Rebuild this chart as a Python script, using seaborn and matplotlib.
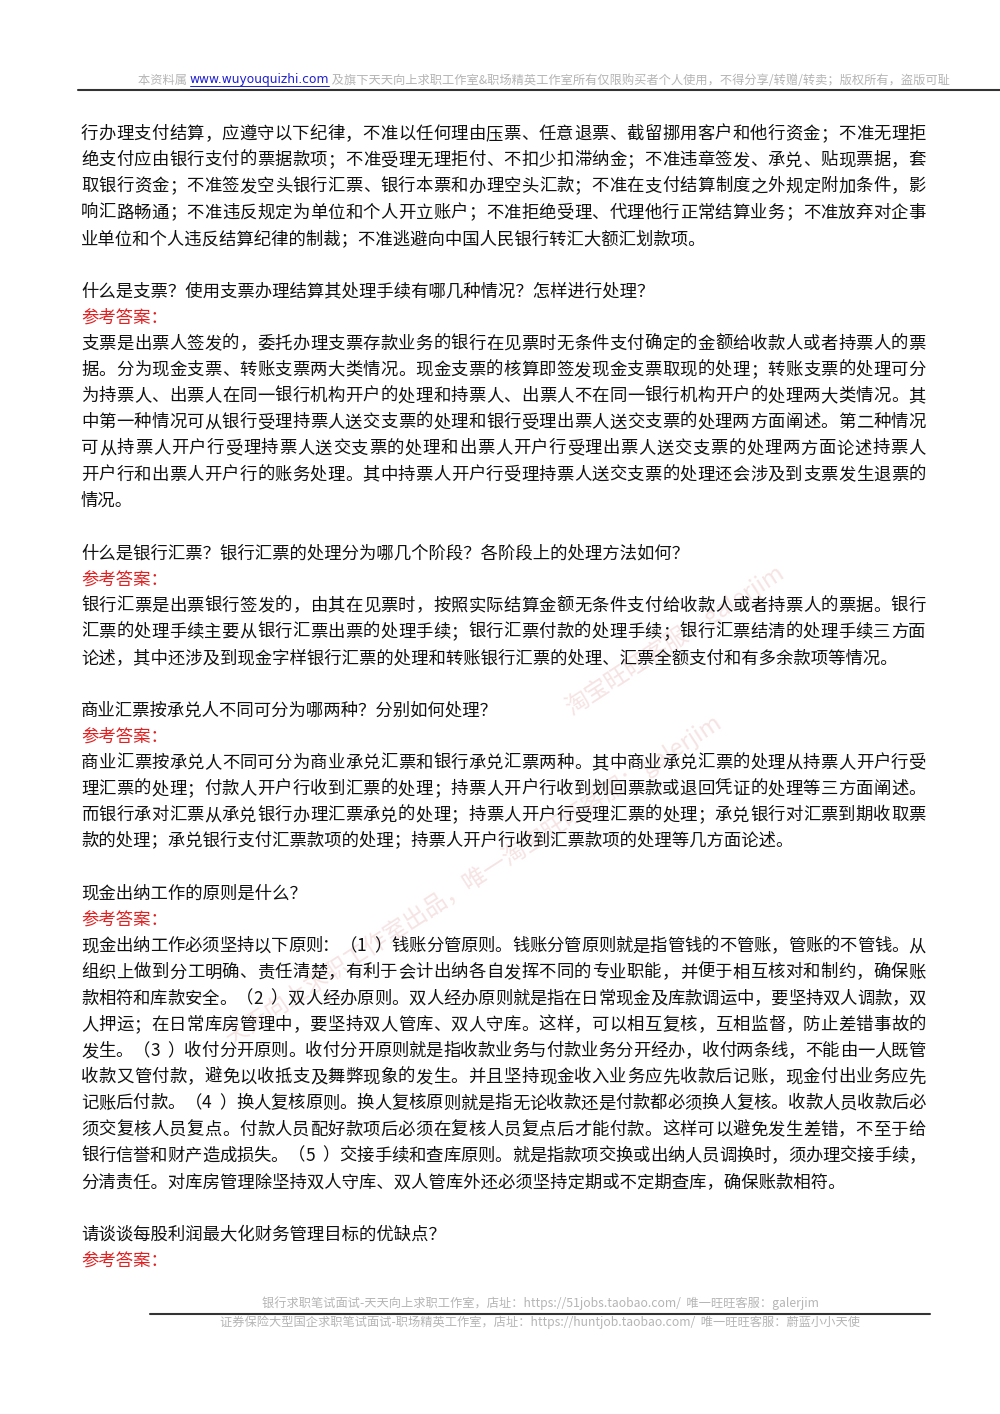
import matplotlib
matplotlib.use("Agg")
import matplotlib.pyplot as plt
import seaborn as sns

sns.set_theme(style="white")
plt.rcParams['font.family'] = ['Noto Sans CJK SC', 'DejaVu Sans']

header_left = "本资料属 "
header_link = "www.wuyouquizhi.com"
header_right = " 及旗下天天向上求职工作室&职场精英工作室所有仅限购买者个人使用，不得分享/转赠/转卖；版权所有，盗版可耻"
footer_1 = "银行求职笔试面试-天天向上求职工作室，店址：https://51jobs.taobao.com/  唯一旺旺客服：galerjim"
footer_2 = "证券保险大型国企求职笔试面试-职场精英工作室，店址：https://huntjob.taobao.com/  唯一旺旺客服：蔚蓝小小天使"

# (text, kind) kind: j = justified, l = last line of paragraph, r = red label
body = [
    ("行办理支付结算，应遵守以下纪律，不准以任何理由压票、任意退票、截留挪用客户和他行资金；不准无理拒", "j"),
    ("绝支付应由银行支付的票据款项；不准受理无理拒付、不扣少扣滞纳金；不准违章签发、承兑、贴现票据，套", "j"),
    ("取银行资金；不准签发空头银行汇票、银行本票和办理空头汇款；不准在支付结算制度之外规定附加条件，影", "j"),
    ("响汇路畅通；不准违反规定为单位和个人开立账户；不准拒绝受理、代理他行正常结算业务；不准放弃对企事", "j"),
    ("业单位和个人违反结算纪律的制裁；不准逃避向中国人民银行转汇大额汇划款项。", "l"),
    (None, None),
    ("什么是支票？使用支票办理结算其处理手续有哪几种情况？怎样进行处理？", "l"),
    ("参考答案：", "r"),
    ("支票是出票人签发的，委托办理支票存款业务的银行在见票时无条件支付确定的金额给收款人或者持票人的票", "j"),
    ("据。分为现金支票、转账支票两大类情况。现金支票的核算即签发现金支票取现的处理；转账支票的处理可分", "j"),
    ("为持票人、出票人在同一银行机构开户的处理和持票人、出票人不在同一银行机构开户的处理两大类情况。其", "j"),
    ("中第一种情况可从银行受理持票人送交支票的处理和银行受理出票人送交支票的处理两方面阐述。第二种情况", "j"),
    ("可从持票人开户行受理持票人送交支票的处理和出票人开户行受理出票人送交支票的处理两方面论述持票人", "j"),
    ("开户行和出票人开户行的账务处理。其中持票人开户行受理持票人送交支票的处理还会涉及到支票发生退票的", "j"),
    ("情况。", "l"),
    (None, None),
    ("什么是银行汇票？银行汇票的处理分为哪几个阶段？各阶段上的处理方法如何？", "l"),
    ("参考答案：", "r"),
    ("银行汇票是出票银行签发的，由其在见票时，按照实际结算金额无条件支付给收款人或者持票人的票据。银行", "j"),
    ("汇票的处理手续主要从银行汇票出票的处理手续；银行汇票付款的处理手续；银行汇票结清的处理手续三方面", "j"),
    ("论述，其中还涉及到现金字样银行汇票的处理和转账银行汇票的处理、汇票全额支付和有多余款项等情况。", "l"),
    (None, None),
    ("商业汇票按承兑人不同可分为哪两种？分别如何处理？", "l"),
    ("参考答案：", "r"),
    ("商业汇票按承兑人不同可分为商业承兑汇票和银行承兑汇票两种。其中商业承兑汇票的处理从持票人开户行受", "j"),
    ("理汇票的处理；付款人开户行收到汇票的处理；持票人开户行收到划回票款或退回凭证的处理等三方面阐述。", "j"),
    ("而银行承对汇票从承兑银行办理汇票承兑的处理；持票人开户行受理汇票的处理；承兑银行对汇票到期收取票", "j"),
    ("款的处理；承兑银行支付汇票款项的处理；持票人开户行收到汇票款项的处理等几方面论述。", "l"),
    (None, None),
    ("现金出纳工作的原则是什么？", "l"),
    ("参考答案：", "r"),
    ("现金出纳工作必须坚持以下原则：（1）钱账分管原则。钱账分管原则就是指管钱的不管账，管账的不管钱。从", "j"),
    ("组织上做到分工明确、责任清楚，有利于会计出纳各自发挥不同的专业职能，并便于相互核对和制约，确保账", "j"),
    ("款相符和库款安全。（2）双人经办原则。双人经办原则就是指在日常现金及库款调运中，要坚持双人调款，双", "j"),
    ("人押运；在日常库房管理中，要坚持双人管库、双人守库。这样，可以相互复核，互相监督，防止差错事故的", "j"),
    ("发生。（3）收付分开原则。收付分开原则就是指收款业务与付款业务分开经办，收付两条线，不能由一人既管", "j"),
    ("收款又管付款，避免以收抵支及舞弊现象的发生。并且坚持现金收入业务应先收款后记账，现金付出业务应先", "j"),
    ("记账后付款。（4）换人复核原则。换人复核原则就是指无论收款还是付款都必须换人复核。收款人员收款后必", "j"),
    ("须交复核人员复点。付款人员配好款项后必须在复核人员复点后才能付款。这样可以避免发生差错，不至于给", "j"),
    ("银行信誉和财产造成损失。（5）交接手续和查库原则。就是指款项交换或出纳人员调换时，须办理交接手续，", "j"),
    ("分清责任。对库房管理除坚持双人守库、双人管库外还必须坚持定期或不定期查库，确保账款相符。", "l"),
    (None, None),
    ("请谈谈每股利润最大化财务管理目标的优缺点？", "l"),
    ("参考答案：", "r"),
]

watermark_1 = "天天向上求职工作室出品，唯一淘宝旺旺客服：galerjim"
watermark_2 = "淘宝旺旺客服：galerjim"

W, H = 1000, 1414
fig = plt.figure(figsize=(W / 100, H / 100), dpi=100)
ax = fig.add_axes([0, 0, 1, 1])
ax.set_xlim(0, W)
ax.set_ylim(H, 0)
ax.axis("off")

# faint diagonal watermark
ax.text(220, 880, watermark_1, rotation=33, fontsize=17, color="#f6e4e4",
        ha="left", va="center", zorder=0)
ax.text(560, 640, watermark_2, rotation=33, fontsize=17, color="#f6e4e4",
        ha="left", va="center", zorder=0)

# header
renderer = fig.canvas.get_renderer()
hs = 8.8
t1 = ax.text(138, 80, header_left, fontsize=hs, color="#b5b5b5", va="center")
w1 = t1.get_window_extent(renderer).width
t2 = ax.text(138 + w1, 80, header_link, fontsize=hs, color="#2020d0", va="center",
             family=["DejaVu Sans"])
w2 = t2.get_window_extent(renderer).width
ax.plot([138 + w1, 138 + w1 + w2], [86, 86], color="#2020d0", lw=0.7)
ax.text(138 + w1 + w2, 80, header_right, fontsize=hs, color="#b5b5b5", va="center")
ax.plot([78, 1000], [90, 90], color="#333333", lw=1.5)

# body
x0, x1 = 81, 925
y = 134
step = 26.2
for text, kind in body:
    if text is None:
        y += step
        continue
    if kind == "j":
        n = len(text)
        dx = (x1 - x0 - 16.5) / (n - 1)
        for i, ch in enumerate(text):
            ax.text(x0 + i * dx, y, ch, fontsize=12.5, color="#111111", va="center")
    else:
        ax.text(x0, y, text, fontsize=12.5, va="center",
                color="#e02020" if kind == "r" else "#111111")
    y += step

# footer
ax.text(540, 1303, footer_1, fontsize=8.8, color="#b5b5b5", ha="center", va="center")
ax.plot([150, 930], [1314, 1314], color="#333333", lw=1.5)
ax.text(540, 1322, footer_2, fontsize=8.8, color="#b5b5b5", ha="center", va="center")

fig.savefig("out.png", dpi=100)
